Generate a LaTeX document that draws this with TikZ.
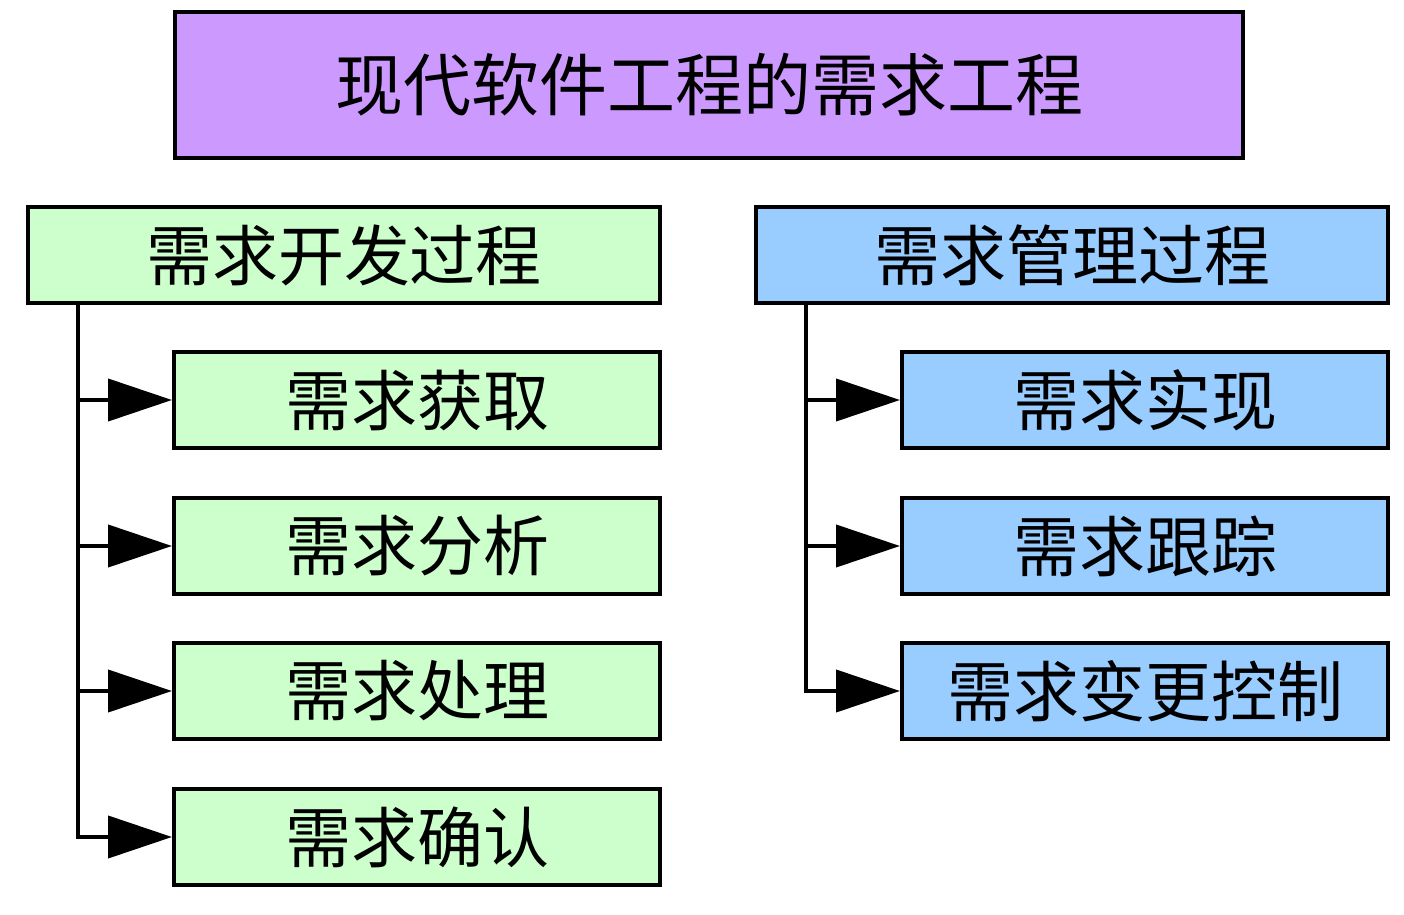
\documentclass[tikz,border=0pt]{standalone}
\usepackage{fontspec}
\usepackage{tikz}
\usetikzlibrary{arrows.meta}
\newfontfamily\cjk{Noto Sans CJK SC}
\definecolor{titlepurple}{HTML}{CC99FF}
\definecolor{devgreen}{HTML}{CCFFCC}
\definecolor{mgmtblue}{HTML}{99CCFF}
\tikzset{
  box/.style={draw=black,line width=2pt,minimum height=48pt,inner sep=0pt,
    font=\cjk\fontsize{33}{40}\selectfont},
  headbox/.style={box,minimum width=316pt},
  subbox/.style={box,minimum width=243pt},
  arr/.style={line width=2pt,-{Triangle[length=32pt,width=21pt]}}
}
\begin{document}
\begin{tikzpicture}[x=0.5pt,y=-0.5pt]
\useasboundingbox (0,0) rectangle (1404,915);
% title
\node[box,fill=titlepurple,minimum width=534pt,minimum height=73pt,
  font=\cjk\fontsize{34}{40}\selectfont] (title) at (709,85) {现代软件工程的需求工程};
% two branches
\node[headbox,fill=devgreen] (dev) at (344,255) {需求开发过程};
\node[headbox,fill=mgmtblue] (mgmt) at (1072,255) {需求管理过程};
% development steps
\node[subbox,fill=devgreen] (get) at (417,400) {需求获取};
\node[subbox,fill=devgreen] (ana) at (417,546) {需求分析};
\node[subbox,fill=devgreen] (proc) at (417,691) {需求处理};
\node[subbox,fill=devgreen] (conf) at (417,837) {需求确认};
% management steps
\node[subbox,fill=mgmtblue] (impl) at (1145,400) {需求实现};
\node[subbox,fill=mgmtblue] (track) at (1145,546) {需求跟踪};
\node[subbox,fill=mgmtblue] (chg) at (1145,691) {需求变更控制};
% trunks
\coordinate (devroot) at ([xshift=26pt]dev.south west);
\coordinate (mgmtroot) at ([xshift=26pt]mgmt.south west);
\foreach \s in {get,ana,proc,conf}
  \draw[arr] (devroot) |- (\s.west);
\foreach \s in {impl,track,chg}
  \draw[arr] (mgmtroot) |- (\s.west);
\end{tikzpicture}
\end{document}
